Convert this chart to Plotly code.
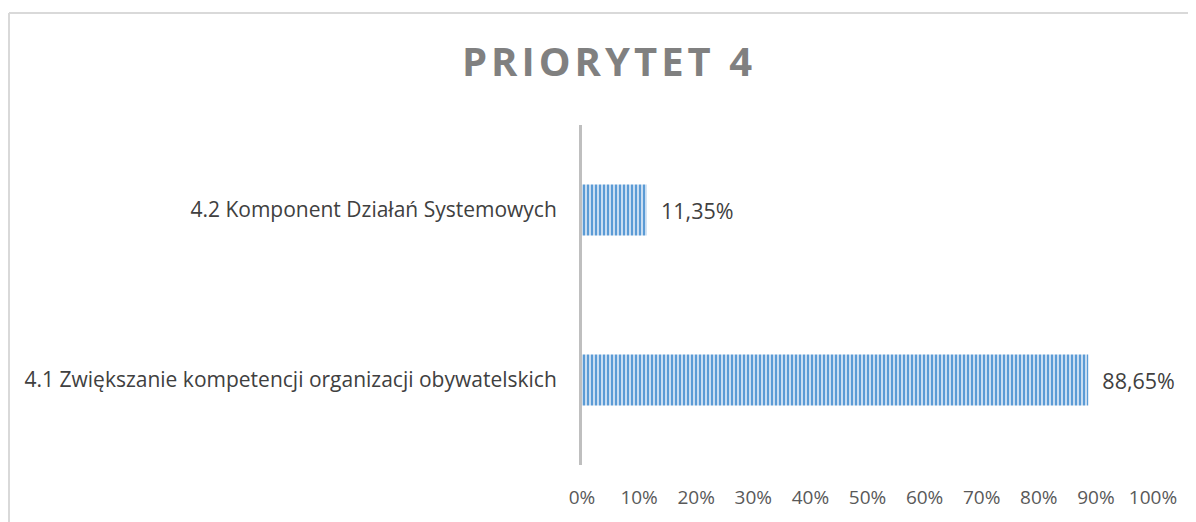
import plotly.graph_objects as go

categories = ["4.1 Zwiększanie kompetencji organizacji obywatelskich",
              "4.2 Komponent Działań Systemowych"]
values = [0.8865, 0.1135]
tick_vals = [0, 0.1, 0.2, 0.3, 0.4, 0.5, 0.6, 0.7, 0.8, 0.9, 1.0]
title_text = "PRIORYTET 4"

# page has an 8px body margin, so work in page pixels minus 8
OFF = 8
W, H = 1196 - OFF, 522 - OFF
L, R, T, B = 582 - OFF, 1153 - OFF, 125 - OFF, 471 - OFF

fig = go.Figure(go.Bar(
    y=categories, x=values, orientation="h",
    width=0.30,
    marker=dict(
        color="#5B9BD5",
        line=dict(width=0),
        pattern=dict(shape="|", fgcolor="#5B9BD5", bgcolor="#C9DDF1",
                     size=4, solidity=0.5, fillmode="replace"),
    ),
    texttemplate="  %{x:.2%}", textposition="outside",
    textfont=dict(family="Open Sans", size=21.5, color="#404040"),
    cliponaxis=False,
))

spaced = "\u200a".join(list(title_text))

def px_x(p):
    return (p - OFF - L) / (R - L)

def px_y(p):
    return (B - (p - OFF)) / (B - T)

fig.update_layout(
    width=W, height=H,
    margin=dict(l=L, r=W - R, t=T, b=H - B, pad=0),
    paper_bgcolor="white", plot_bgcolor="white",
    separators=", ",
    showlegend=False,
    title=dict(text=spaced, x=(607 - OFF) / W, xanchor="center", y=1 - (62 - OFF) / H,
               yanchor="middle",
               font=dict(family="Open Sans", size=40, color="#808080", weight="bold")),
    xaxis=dict(range=[0, 1], tickvals=tick_vals, tickformat=".0%", showgrid=False,
               zeroline=False, showline=False, ticks="", ticklabelstandoff=19,
               tickfont=dict(family="Open Sans", size=19, color="#595959"), fixedrange=True),
    yaxis=dict(showgrid=False, zeroline=False, showline=True, linecolor="#BFBFBF", linewidth=3,
               ticks="", ticklabelstandoff=18,
               tickfont=dict(family="Open Sans", size=21, color="#404040")),
    shapes=[
        dict(type="line", xref="paper", yref="paper",
             x0=px_x(9), x1=px_x(1210), y0=px_y(11), y1=px_y(11),
             line=dict(color="#D9D9D9", width=2)),
        dict(type="line", xref="paper", yref="paper",
             x0=px_x(9), x1=px_x(9), y0=px_y(11), y1=px_y(540),
             line=dict(color="#D9D9D9", width=2)),
    ],
)

fig.write_html("out.html")
